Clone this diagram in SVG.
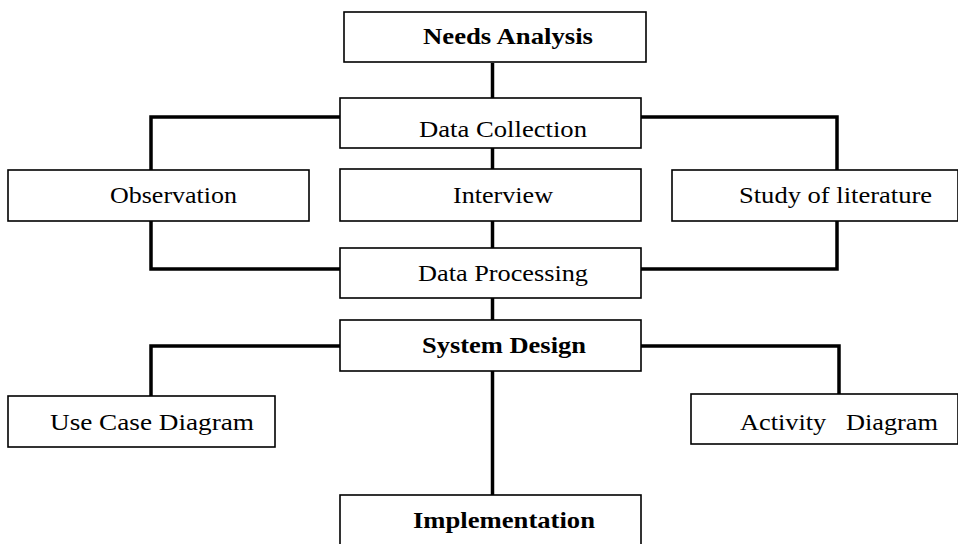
<svg xmlns="http://www.w3.org/2000/svg" width="958" height="544" viewBox="0 0 958 544">
<style>
.box{fill:#fff;stroke:#000;stroke-width:1.6}
.b{font-weight:bold}
.c{fill:none;stroke:#000;stroke-width:3.5;stroke-linejoin:miter}
</style>
<rect width="958" height="544" fill="#fff"/>
<g id="connectors">
<path class="c" d="M492.5,63V98"/>
<path class="c" d="M492.5,148V169"/>
<path class="c" d="M492.5,221V248"/>
<path class="c" d="M492.5,298V320"/>
<path class="c" d="M492.5,371V495"/>
<path class="c" d="M340,117H151V170"/>
<path class="c" d="M641,117H837V170"/>
<path class="c" d="M151,221V269H340"/>
<path class="c" d="M837,221V269H641"/>
<path class="c" d="M340,346H151V396"/>
<path class="c" d="M641,346H839V394"/>
</g>
<g font-family="Liberation Serif, Tinos, Times New Roman, serif" font-size="24" fill="#000">
<g id="needs-analysis"><rect class="box" x="344" y="12" width="302" height="50"/><text class="b" x="423" y="44" textLength="170" lengthAdjust="spacingAndGlyphs">Needs Analysis</text></g>
<g id="data-collection"><rect class="box" x="340" y="98" width="301" height="50"/><text x="419" y="137" textLength="168" lengthAdjust="spacingAndGlyphs">Data Collection</text></g>
<g id="observation"><rect class="box" x="8" y="170" width="301" height="51"/><text x="110" y="203" textLength="127" lengthAdjust="spacingAndGlyphs">Observation</text></g>
<g id="interview"><rect class="box" x="340" y="169" width="301" height="52"/><text x="453" y="203" textLength="100" lengthAdjust="spacingAndGlyphs">Interview</text></g>
<g id="study-of-literature"><rect class="box" x="672" y="170" width="286" height="51"/><text x="739" y="203" textLength="193" lengthAdjust="spacingAndGlyphs">Study of literature</text></g>
<g id="data-processing"><rect class="box" x="340" y="248" width="301" height="50"/><text x="418" y="281" textLength="170" lengthAdjust="spacingAndGlyphs">Data Processing</text></g>
<g id="system-design"><rect class="box" x="340" y="320" width="301" height="51"/><text class="b" x="422" y="353" textLength="164" lengthAdjust="spacingAndGlyphs">System Design</text></g>
<g id="use-case-diagram"><rect class="box" x="8" y="396" width="267" height="51"/><text x="50" y="430" textLength="204" lengthAdjust="spacingAndGlyphs">Use Case Diagram</text></g>
<g id="activity-diagram"><rect class="box" x="691" y="394" width="267" height="50"/><text x="740" y="430" textLength="198" lengthAdjust="spacingAndGlyphs" xml:space="preserve">Activity   Diagram</text></g>
<g id="implementation"><rect class="box" x="340" y="495" width="301" height="60"/><text class="b" x="413" y="528" textLength="182" lengthAdjust="spacingAndGlyphs">Implementation</text></g>
</g>
</svg>
